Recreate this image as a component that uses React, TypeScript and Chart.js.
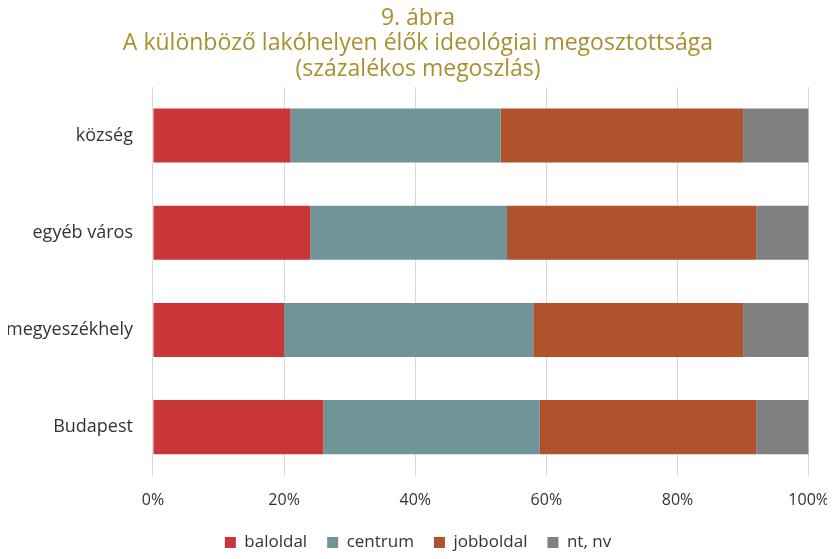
import React, { useEffect, useRef } from "react";
import { Chart, registerables } from "chart.js";

Chart.register(...registerables);

const categories = ["község", "egyéb város", "megyeszékhely", "Budapest"];
const baloldal = [21, 24, 20, 26];
const centrum = [32, 30, 38, 33];
const jobboldal = [37, 38, 32, 33];
const ntnv = [10, 8, 10, 8];
const titleLines = ["9. ábra", "A különböző lakóhelyen élők ideológiai megosztottsága", "(százalékos megoszlás)"];

const FONT = "'Open Sans', 'Noto Sans', sans-serif";

export default function App() {
  const ref = useRef<HTMLCanvasElement>(null);
  useEffect(() => {
    if (!ref.current) return;
    const chart = new Chart(ref.current, {
      type: "bar",
      data: {
        labels: categories,
        datasets: [
          { label: "baloldal", data: baloldal, backgroundColor: "#c8363a" },
          { label: "centrum", data: centrum, backgroundColor: "#6f9599" },
          { label: "jobboldal", data: jobboldal, backgroundColor: "#b0532d" },
          { label: "nt, nv", data: ntnv, backgroundColor: "#808080" },
        ],
      },
      options: {
        indexAxis: "y",
        animation: false,
        responsive: true,
        maintainAspectRatio: false,
        datasets: { bar: { barPercentage: 0.557, categoryPercentage: 1 } },
        layout: { padding: { left: -6, right: -7, top: 6, bottom: -2 } },
        plugins: {
          title: {
            display: true,
            text: titleLines,
            color: "#a8902f",
            font: { family: FONT, size: 23, weight: "normal", lineHeight: 1.1 },
            padding: { top: 0, bottom: 5 },
          },
          legend: {
            position: "bottom",
            labels: {
              boxWidth: 11,
              boxHeight: 11,
              color: "#333",
              font: { family: FONT, size: 17 },
              padding: 20,
            },
          },
          tooltip: { enabled: false },
        },
        scales: {
          x: {
            stacked: true,
            min: 0,
            max: 100,
            afterFit: (s: any) => {
              s.height -= 2;
            },
            ticks: {
              stepSize: 20,
              callback: (v: any) => v + "%",
              color: "#333",
              font: { family: FONT, size: 16 },
              padding: 6,
            },
            grid: { color: "#d9d9d9", drawTicks: true, tickLength: 9, tickColor: "rgba(0,0,0,0)" },
            border: { display: false },
          },
          y: {
            stacked: true,
            ticks: { color: "#333", font: { family: FONT, size: 18 }, padding: 12 },
            grid: { display: false },
            border: { display: false },
          },
        },
      },
    });
    return () => chart.destroy();
  }, []);
  return (
    <div style={{ width: 835, height: 559, margin: -8 }}>
      <canvas ref={ref} />
    </div>
  );
}
